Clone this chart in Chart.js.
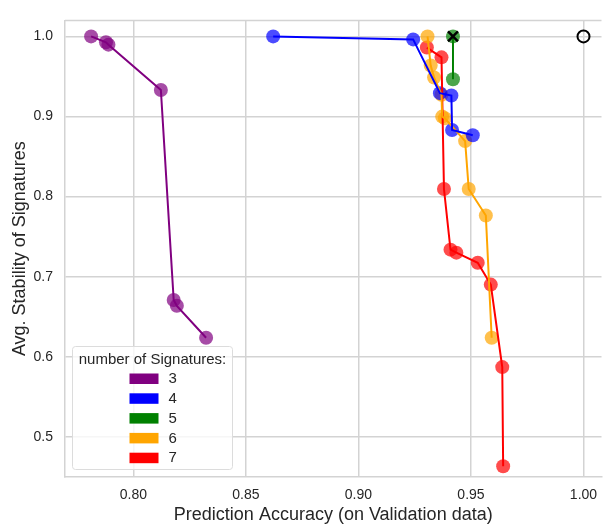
<!DOCTYPE html>
<html>
<head>
<meta charset="utf-8">
<script src="https://cdn.jsdelivr.net/npm/chart.js@4.4.1/dist/chart.umd.min.js"></script>
<style>
  html, body { margin: 0; padding: 0; background: #ffffff; overflow: hidden; }
  canvas { display: block; }
</style>
</head>
<body>
<canvas id="chart" width="611" height="525"></canvas>
<script>
// Number of signatures per series, and the legend colours
const signatureCounts = ['3', '4', '5', '6', '7'];
const seriesColors = ['#800080', '#0000ff', '#008000', '#ffa500', '#ff0000'];

// Prediction accuracy (x) and average stability (y) for each signature count
const acc3  = [0.7812, 0.7878, 0.7889, 0.8122, 0.8179, 0.8193, 0.8323];
const stab3 = [1.0000, 0.9927, 0.9897, 0.9332, 0.6710, 0.6637, 0.6238];

const acc4  = [0.8621, 0.9243, 0.9362, 0.9413, 0.9416, 0.9508];
const stab4 = [1.0000, 0.9963, 0.9292, 0.9262, 0.8831, 0.8766];

const acc5  = [0.9420, 0.9420];
const stab5 = [1.0000, 0.9466];

const acc6  = [0.9307, 0.9321, 0.9336, 0.9369, 0.9372, 0.9384, 0.9474, 0.9490, 0.9566, 0.9592];
const stab6 = [1.0000, 0.9637, 0.9487, 0.9271, 0.8999, 0.8978, 0.8693, 0.8095, 0.7765, 0.6238];

const acc7  = [0.9304, 0.9369, 0.9380, 0.9409, 0.9435, 0.9530, 0.9588, 0.9639, 0.9643];
const stab7 = [0.9861, 0.9739, 0.8095, 0.7338, 0.7301, 0.7174, 0.6902, 0.5872, 0.4634];

// Highlighted reference points: selected model (x) and ideal corner (o)
const selectedPoint = [0.9420, 1.0000];
const idealPoint = [1.0000, 1.0000];

// Axis ticks
const xTickValues = [0.80, 0.85, 0.90, 0.95, 1.00];
const yTickValues = [0.5, 0.6, 0.7, 0.8, 0.9, 1.0];

const accuracies = [acc3, acc4, acc5, acc6, acc7];
const stabilities = [stab3, stab4, stab5, stab6, stab7];

function toPoints(xs, ys) {
  return xs.map((x, i) => ({ x: x, y: ys[i] }));
}
function withAlpha(hex, a) {
  const n = parseInt(hex.slice(1), 16);
  return `rgba(${(n >> 16) & 255},${(n >> 8) & 255},${n & 255},${a})`;
}

const datasets = [];
// Markers (drawn underneath the connecting lines)
signatureCounts.forEach((label, i) => {
  datasets.push({
    label: label + ' markers',
    data: toPoints(accuracies[i], stabilities[i]),
    showLine: false,
    pointRadius: 7,
    pointBorderWidth: 0,
    pointBackgroundColor: withAlpha(seriesColors[i], 0.7),
    pointBorderColor: 'rgba(0,0,0,0)',
    order: 3
  });
});
// Connecting lines
signatureCounts.forEach((label, i) => {
  datasets.push({
    label: label,
    data: toPoints(accuracies[i], stabilities[i]),
    showLine: true,
    borderColor: seriesColors[i],
    borderWidth: 2,
    pointRadius: 0,
    tension: 0,
    fill: false,
    order: 2
  });
});
datasets.push({
  label: 'selected',
  data: [{ x: selectedPoint[0], y: selectedPoint[1] }],
  showLine: false,
  pointStyle: 'crossRot',
  pointRadius: 7,
  pointBorderWidth: 2.5,
  pointBorderColor: '#000000',
  order: 1
});
datasets.push({
  label: 'ideal',
  data: [{ x: idealPoint[0], y: idealPoint[1] }],
  showLine: false,
  pointStyle: 'circle',
  pointRadius: 6,
  pointBorderWidth: 2,
  pointBorderColor: '#000000',
  pointBackgroundColor: 'rgba(0,0,0,0)',
  order: 1
});

const gridColor = '#d3d3d3';
const textColor = '#262626';
const fontFamily = '"Liberation Sans", Arial, sans-serif';

// Top spine of the plot frame
const framePlugin = {
  id: 'frame',
  beforeDatasetsDraw(chart) {
    const { ctx, chartArea } = chart;
    ctx.save();
    ctx.strokeStyle = gridColor;
    ctx.lineWidth = 1.5;
    ctx.beginPath();
    ctx.moveTo(chartArea.left, chartArea.top);
    ctx.lineTo(chartArea.right, chartArea.top);
    ctx.stroke();
    ctx.restore();
  }
};

// Legend box placed inside the lower-left corner of the plot
const legendPlugin = {
  id: 'signatureLegend',
  afterDraw(chart) {
    const { ctx, chartArea } = chart;
    const w = 160, h = 123;
    const x = chartArea.left + 7.5;
    const y = chartArea.bottom - 7.5 - h;
    ctx.save();
    ctx.beginPath();
    ctx.roundRect(x, y, w, h, 3);
    ctx.fillStyle = 'rgba(255,255,255,0.8)';
    ctx.fill();
    ctx.strokeStyle = '#dcdcdc';
    ctx.lineWidth = 1;
    ctx.stroke();

    ctx.fillStyle = textColor;
    ctx.font = '15px ' + fontFamily;
    ctx.textAlign = 'center';
    ctx.textBaseline = 'middle';
    ctx.fillText('number of Signatures:', x + w / 2, y + 13);

    ctx.textAlign = 'left';
    signatureCounts.forEach((label, i) => {
      const cy = y + 32 + i * 19.8;
      ctx.fillStyle = seriesColors[i];
      ctx.fillRect(x + 57, cy - 5, 29, 10.5);
      ctx.fillStyle = textColor;
      ctx.fillText(label, x + 96, cy + 0.5);
    });
    ctx.restore();
  }
};

new Chart(document.getElementById('chart'), {
  type: 'scatter',
  data: { datasets: datasets },
  options: {
    responsive: false,
    animation: false,
    events: [],
    layout: { padding: { top: 10, right: 0, bottom: 0, left: 0 } },
    plugins: {
      legend: { display: false },
      tooltip: { enabled: false }
    },
    scales: {
      x: {
        type: 'linear',
        min: 0.7696,
        max: 1.008,
        afterFit: (s) => { s.height = 48; },
        afterBuildTicks: (s) => { s.ticks = xTickValues.map(v => ({ value: v })); },
        grid: { color: gridColor, lineWidth: 1.5, drawTicks: false },
        border: { color: gridColor, width: 1.5 },
        ticks: {
          padding: 10,
          color: textColor,
          font: { family: fontFamily, size: 14 },
          callback: (v) => Number(v).toFixed(2)
        },
        title: {
          display: true,
          text: 'Prediction Accuracy (on Validation data)',
          color: textColor,
          font: { family: fontFamily, size: 18, lineHeight: 1 },
          padding: { top: 0, bottom: 0.5 }
        }
      },
      y: {
        type: 'linear',
        min: 0.45,
        max: 1.02,
        afterFit: (s) => { s.width = 65; },
        afterBuildTicks: (s) => { s.ticks = yTickValues.map(v => ({ value: v })); },
        grid: { color: gridColor, lineWidth: 1.5, drawTicks: false },
        border: { color: gridColor, width: 1.5 },
        ticks: {
          padding: 12,
          color: textColor,
          font: { family: fontFamily, size: 14 },
          callback: (v) => Number(v).toFixed(1)
        },
        title: {
          display: true,
          text: 'Avg. Stability of Signatures',
          color: textColor,
          font: { family: fontFamily, size: 18 },
          padding: { top: 9.5, bottom: 2 }
        }
      }
    }
  },
  plugins: [framePlugin, legendPlugin]
});
</script>
</body>
</html>
